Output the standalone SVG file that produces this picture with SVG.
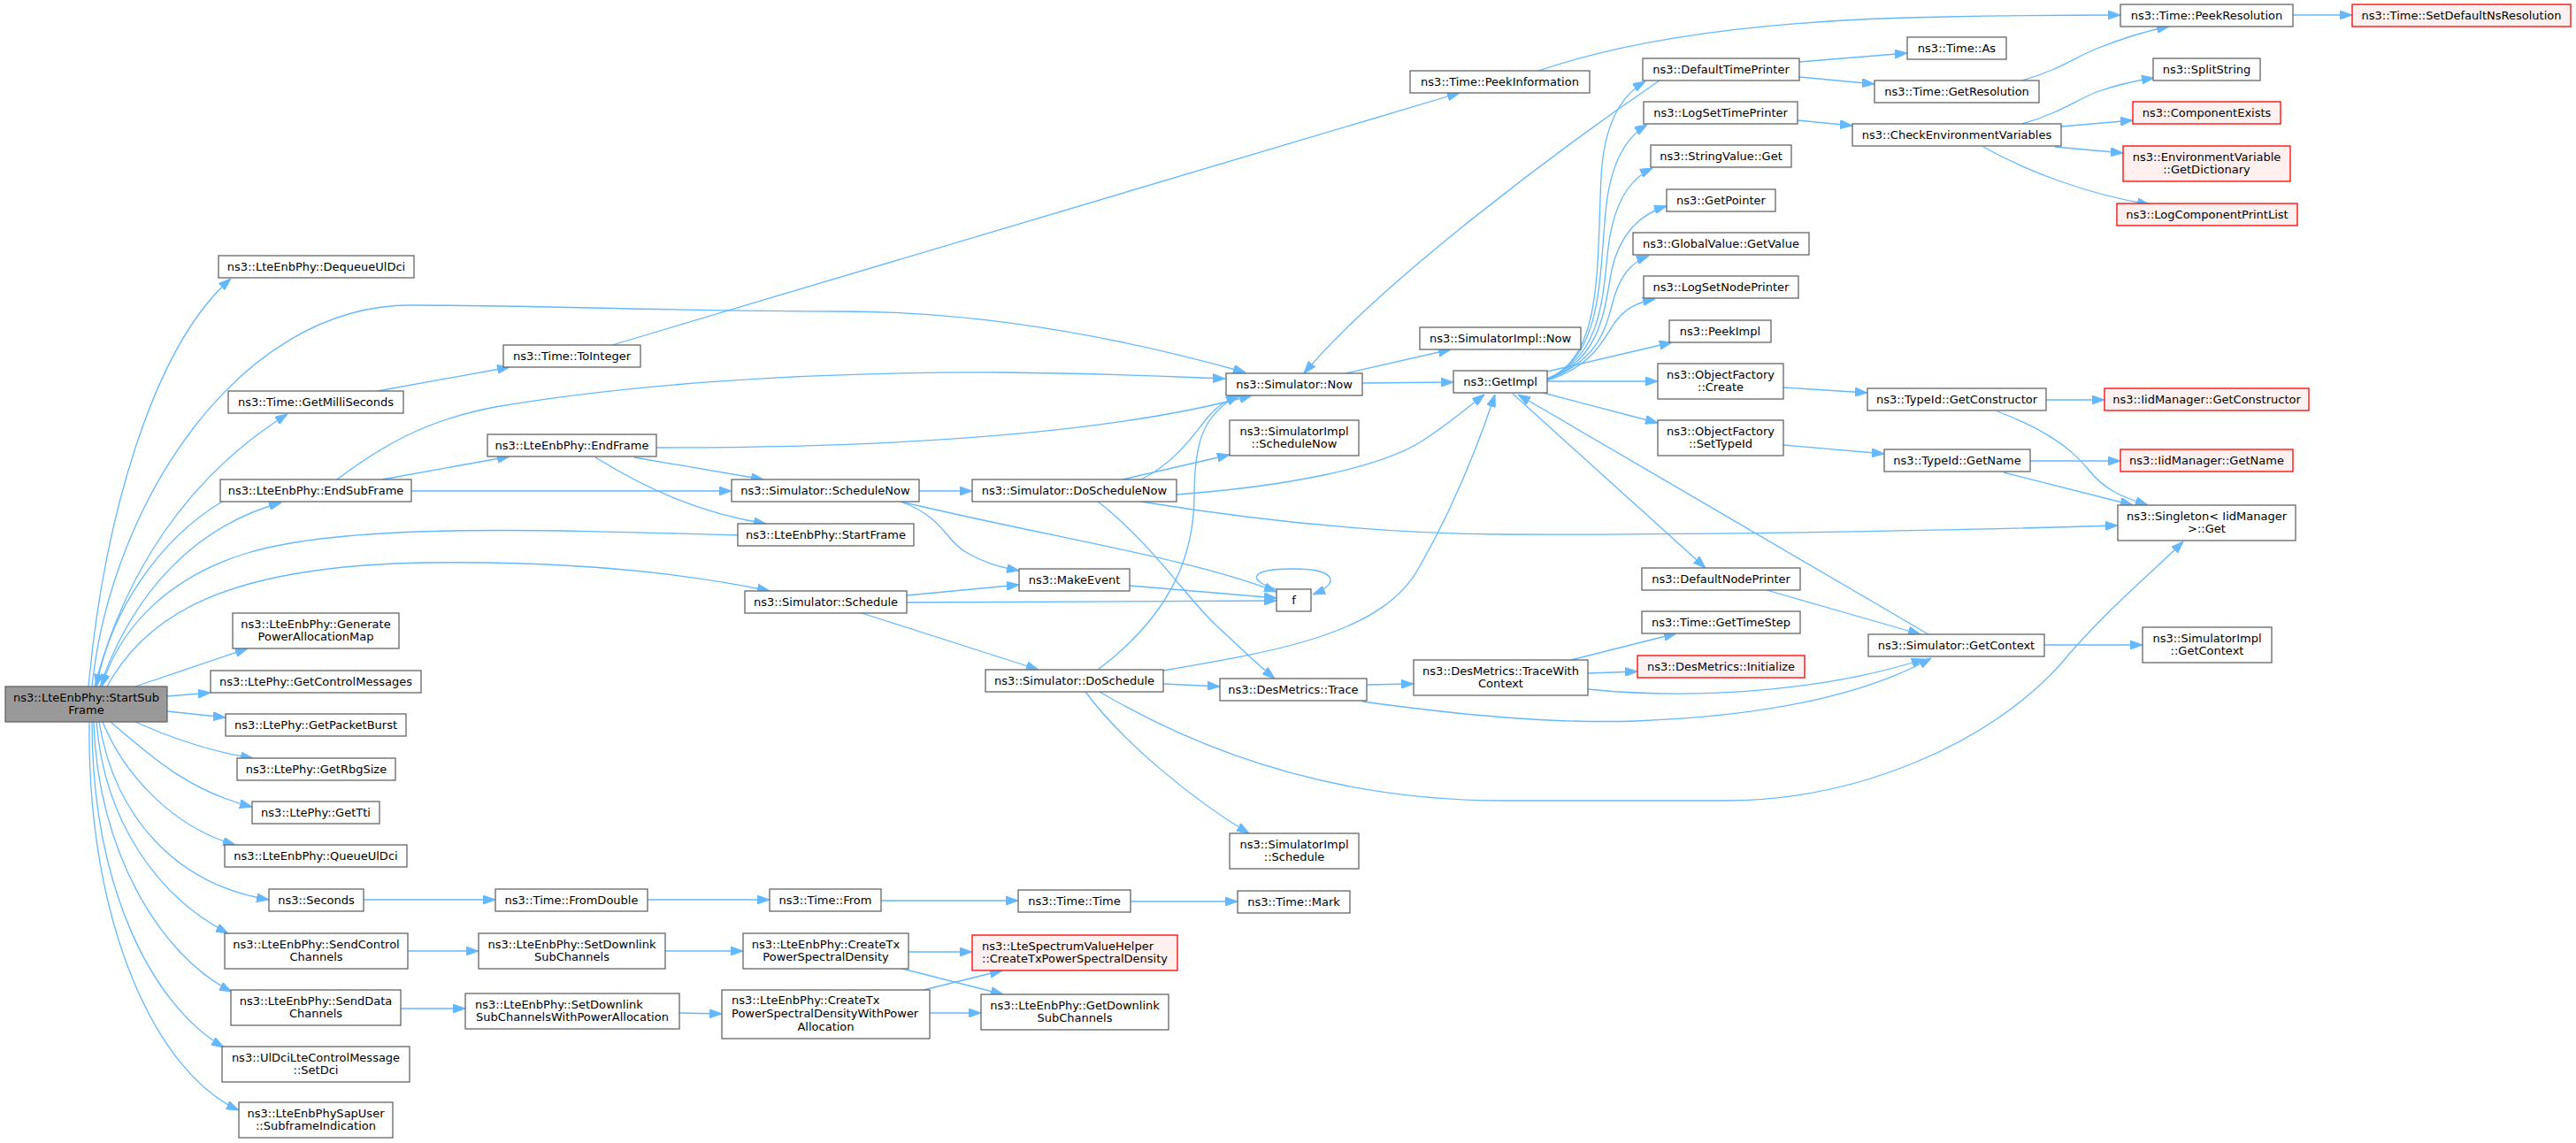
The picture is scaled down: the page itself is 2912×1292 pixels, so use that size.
<svg xmlns="http://www.w3.org/2000/svg" width="2912" height="1292" viewBox="0 0 2912 1292">
<style>
.node rect{fill:#ffffff;stroke:#666666;stroke-width:1.3}
.red rect{fill:#fff0f0;stroke:#ff0000}
.root rect{fill:#999999}
text{font-family:"DejaVu Sans",sans-serif;font-size:13px;fill:#000000;text-anchor:middle}
text.l{text-anchor:start}
#edges path{fill:none;stroke:#63b8ff;stroke-width:1.3;marker-end:url(#arr)}
</style>
<defs>
<marker id="arr" viewBox="0 0 14 10" refX="14" refY="5" markerWidth="14" markerHeight="10" markerUnits="userSpaceOnUse" orient="auto">
<path d="M0,0 L14,5 L0,10 Z" fill="#63b8ff" stroke="#63b8ff" stroke-width="1"/>
</marker>
</defs>
<rect x="0" y="0" width="2912" height="1292" fill="#ffffff"/>
<g id="edges">
<path d="M100,776 C118,580 175,390 261,315"/>
<path d="M104,776 C125,570 270,345 464,345 C620,345 760,352 951,352 C1120,352 1280,385 1408,421"/>
<path d="M107,776 C140,650 210,540 325,468"/>
<path d="M113,776 C150,670 220,595 318,568"/>
<path d="M251,567 C180,610 125,690 109,776"/>
<path d="M834,605 C600,598 390,592 280,625 C190,652 135,710 115,776"/>
<path d="M121,776 C165,695 255,640 480,636 C630,634 760,645 870,668"/>
<path d="M153,776 L280,733"/>
<path d="M189,787 L238,783"/>
<path d="M189,804 L255,811"/>
<path d="M153,816 C195,835 240,850 286,857"/>
<path d="M125,816 C170,855 215,895 285,912"/>
<path d="M116,816 C140,875 195,935 266,955"/>
<path d="M112,816 C130,925 200,1000 304,1017"/>
<path d="M109,816 C118,930 180,1015 258,1055"/>
<path d="M106,816 C110,960 180,1080 262,1121"/>
<path d="M104,816 C104,1000 170,1135 253,1184"/>
<path d="M101,816 C98,1050 180,1215 270,1255"/>
<path d="M427,442 L576,415"/>
<path d="M692,390 L1650,105"/>
<path d="M1739,80 C1850,42 2000,22 2200,19 C2300,17 2360,17 2397,17"/>
<path d="M1876,91 C1760,170 1560,320 1474,422"/>
<path d="M2034,70 L2156,60"/>
<path d="M2034,87 L2119,95"/>
<path d="M2286,91 C2330,78 2345,65 2370,55 C2395,45 2420,36 2452,30"/>
<path d="M2592,17 L2659,17"/>
<path d="M2032,136 L2094,142"/>
<path d="M2286,140 C2330,127 2345,114 2370,104 C2395,95 2415,91 2435,88"/>
<path d="M2330,143 L2411,136"/>
<path d="M2323,166 L2400,173"/>
<path d="M2242,166 C2290,193 2360,220 2430,231"/>
<path d="M1521,422 L1640,395"/>
<path d="M1540,433 L1643,432"/>
<path d="M1749,428 C1812,405 1805,300 1810,200 C1813,140 1832,108 1860,92"/>
<path d="M1749,428 C1812,405 1808,310 1815,240 C1820,185 1838,155 1862,141"/>
<path d="M1749,428 C1812,405 1812,330 1818,280 C1824,230 1842,202 1868,190"/>
<path d="M1749,429 C1812,406 1814,345 1822,305 C1830,268 1852,242 1884,233"/>
<path d="M1749,429 C1812,406 1816,365 1825,335 C1833,310 1845,296 1864,289"/>
<path d="M1749,430 C1800,414 1812,385 1825,365 C1838,348 1850,342 1871,338"/>
<path d="M1749,420 L1890,387"/>
<path d="M1749,431 L1874,431"/>
<path d="M1744,444 L1874,478"/>
<path d="M1710,445 L1928,642"/>
<path d="M2180,717 C2050,640 1850,525 1716,446"/>
<path d="M1997,667 L2171,717"/>
<path d="M1330,559 C1450,550 1560,530 1610,497 C1640,477 1660,460 1678,446"/>
<path d="M1315,758 C1450,735 1565,715 1605,640 C1645,570 1672,500 1690,446"/>
<path d="M1241,757 C1330,690 1350,620 1350,560 C1350,500 1360,468 1400,447"/>
<path d="M1290,542 C1330,522 1350,490 1365,472 C1375,460 1385,453 1402,447"/>
<path d="M742,506 C1000,506 1250,492 1415,447"/>
<path d="M381,542 C430,505 480,475 560,460 C700,436 900,420 1132,421 C1250,422 1330,426 1385,428"/>
<path d="M432,542 L576,516"/>
<path d="M465,555 L827,555"/>
<path d="M717,517 L863,542"/>
<path d="M673,517 C730,552 790,580 866,592"/>
<path d="M1039,555 L1099,555"/>
<path d="M1018,567 C1068,585 1068,612 1095,626 C1115,637 1130,641 1152,645"/>
<path d="M1018,567 C1200,610 1350,632 1443,669"/>
<path d="M1269,542 L1390,514"/>
<path d="M1241,567 C1300,612 1345,680 1375,707 C1400,730 1420,750 1441,767"/>
<path d="M1290,567 C1400,585 1550,603 1700,604 C1900,605 2200,600 2394,594"/>
<path d="M1025,673 L1152,661"/>
<path d="M1025,681 L1443,679"/>
<path d="M974,693 L1174,757"/>
<path d="M1277,662 L1443,676"/>
<path d="M1446,667 C1405,655 1415,643 1462,643 C1512,643 1515,660 1484,672"/>
<path d="M1315,773 L1379,776"/>
<path d="M1227,782 C1270,840 1350,905 1412,942"/>
<path d="M1243,782 C1350,845 1500,905 1700,905 L1950,905 C2100,905 2250,840 2330,750 C2380,690 2430,650 2468,612"/>
<path d="M1546,774 L1598,773"/>
<path d="M1540,793 C1650,808 1750,818 1850,815 C1980,810 2100,790 2183,744"/>
<path d="M1776,746 L1895,716"/>
<path d="M1795,761 L1851,759"/>
<path d="M1795,779 C1900,790 2050,785 2175,745"/>
<path d="M2311,729 L2422,729"/>
<path d="M2016,438 L2111,444"/>
<path d="M2016,503 L2130,513"/>
<path d="M2313,452 L2379,452"/>
<path d="M2258,465 C2310,485 2340,505 2360,530 C2380,555 2400,562 2428,571"/>
<path d="M2295,521 L2397,521"/>
<path d="M2265,534 L2411,571"/>
<path d="M411,1017 L560,1017"/>
<path d="M732,1017 L870,1017"/>
<path d="M996,1018 L1151,1018"/>
<path d="M1278,1019 L1399,1019"/>
<path d="M461,1075 L541,1075"/>
<path d="M752,1075 L840,1075"/>
<path d="M1027,1076 L1099,1076"/>
<path d="M1016,1094 L1134,1124"/>
<path d="M453,1140 L526,1140"/>
<path d="M768,1145 L816,1146"/>
<path d="M1044,1119 L1133,1097"/>
<path d="M1051,1145 L1109,1145"/>
</g>
<g id="n1" class="node root"><rect x="6" y="776" width="183" height="40"/><text x="97.5" y="793">ns3::LteEnbPhy::StartSub</text><text x="97.5" y="807">Frame</text></g>
<g id="n2" class="node"><rect x="247" y="289" width="221" height="25"/><text x="357.5" y="306">ns3::LteEnbPhy::DequeueUlDci</text></g>
<g id="n3" class="node"><rect x="1386" y="422" width="154" height="25"/><text x="1463" y="439">ns3::Simulator::Now</text></g>
<g id="n4" class="node"><rect x="258" y="442" width="198" height="25"/><text x="357" y="459">ns3::Time::GetMilliSeconds</text></g>
<g id="n5" class="node"><rect x="569" y="390" width="155" height="25"/><text x="646.5" y="407">ns3::Time::ToInteger</text></g>
<g id="n6" class="node"><rect x="1594" y="80" width="203" height="25"/><text x="1695.5" y="97">ns3::Time::PeekInformation</text></g>
<g id="n7" class="node"><rect x="2397" y="5" width="195" height="25"/><text x="2494.5" y="22">ns3::Time::PeekResolution</text></g>
<g id="n8" class="node red"><rect x="2659" y="5" width="247" height="25"/><text x="2782.5" y="22">ns3::Time::SetDefaultNsResolution</text></g>
<g id="n9" class="node"><rect x="249" y="542" width="216" height="25"/><text x="357" y="559">ns3::LteEnbPhy::EndSubFrame</text></g>
<g id="n10" class="node"><rect x="551" y="491" width="191" height="25"/><text x="646.5" y="508">ns3::LteEnbPhy::EndFrame</text></g>
<g id="n11" class="node"><rect x="827" y="542" width="212" height="25"/><text x="933" y="559">ns3::Simulator::ScheduleNow</text></g>
<g id="n12" class="node"><rect x="834" y="592" width="199" height="25"/><text x="933.5" y="609">ns3::LteEnbPhy::StartFrame</text></g>
<g id="n13" class="node"><rect x="842" y="668" width="183" height="25"/><text x="933.5" y="685">ns3::Simulator::Schedule</text></g>
<g id="n14" class="node"><rect x="263" y="693" width="188" height="40"/><text x="357" y="710">ns3::LteEnbPhy::Generate</text><text x="357" y="724">PowerAllocationMap</text></g>
<g id="n15" class="node"><rect x="238" y="758" width="238" height="25"/><text x="357" y="775">ns3::LtePhy::GetControlMessages</text></g>
<g id="n16" class="node"><rect x="255" y="807" width="204" height="25"/><text x="357" y="824">ns3::LtePhy::GetPacketBurst</text></g>
<g id="n17" class="node"><rect x="268" y="857" width="179" height="25"/><text x="357.5" y="874">ns3::LtePhy::GetRbgSize</text></g>
<g id="n18" class="node"><rect x="285" y="906" width="144" height="25"/><text x="357" y="923">ns3::LtePhy::GetTti</text></g>
<g id="n19" class="node"><rect x="254" y="955" width="206" height="25"/><text x="357" y="972">ns3::LteEnbPhy::QueueUlDci</text></g>
<g id="n20" class="node"><rect x="304" y="1005" width="107" height="25"/><text x="357.5" y="1022">ns3::Seconds</text></g>
<g id="n21" class="node"><rect x="254" y="1055" width="207" height="40"/><text x="357.5" y="1072">ns3::LteEnbPhy::SendControl</text><text x="357.5" y="1086">Channels</text></g>
<g id="n22" class="node"><rect x="261" y="1119" width="192" height="40"/><text x="357" y="1136">ns3::LteEnbPhy::SendData</text><text x="357" y="1150">Channels</text></g>
<g id="n23" class="node"><rect x="251" y="1183" width="212" height="40"/><text x="357" y="1200">ns3::UlDciLteControlMessage</text><text x="357" y="1214">::SetDci</text></g>
<g id="n24" class="node"><rect x="270" y="1246" width="174" height="40"/><text x="357" y="1263">ns3::LteEnbPhySapUser</text><text x="357" y="1277">::SubframeIndication</text></g>
<g id="n25" class="node"><rect x="560" y="1005" width="172" height="25"/><text x="646" y="1022">ns3::Time::FromDouble</text></g>
<g id="n26" class="node"><rect x="870" y="1005" width="126" height="25"/><text x="933" y="1022">ns3::Time::From</text></g>
<g id="n27" class="node"><rect x="1151" y="1006" width="127" height="25"/><text x="1214.5" y="1023">ns3::Time::Time</text></g>
<g id="n28" class="node"><rect x="1399" y="1007" width="127" height="25"/><text x="1462.5" y="1024">ns3::Time::Mark</text></g>
<g id="n29" class="node"><rect x="541" y="1055" width="211" height="40"/><text x="646.5" y="1072">ns3::LteEnbPhy::SetDownlink</text><text x="646.5" y="1086">SubChannels</text></g>
<g id="n30" class="node"><rect x="526" y="1123" width="242" height="40"/><text class="l" x="537" y="1140">ns3::LteEnbPhy::SetDownlink</text><text x="647" y="1154">SubChannelsWithPowerAllocation</text></g>
<g id="n31" class="node"><rect x="840" y="1055" width="187" height="40"/><text x="933.5" y="1072">ns3::LteEnbPhy::CreateTx</text><text x="933.5" y="1086">PowerSpectralDensity</text></g>
<g id="n32" class="node"><rect x="816" y="1119" width="235" height="55"/><text class="l" x="827" y="1135">ns3::LteEnbPhy::CreateTx</text><text class="l" x="827" y="1150">PowerSpectralDensityWithPower</text><text x="933.5" y="1165">Allocation</text></g>
<g id="n33" class="node red"><rect x="1099" y="1057" width="232" height="40"/><text class="l" x="1110" y="1074">ns3::LteSpectrumValueHelper</text><text x="1215" y="1088">::CreateTxPowerSpectralDensity</text></g>
<g id="n34" class="node"><rect x="1109" y="1124" width="212" height="40"/><text x="1215" y="1141">ns3::LteEnbPhy::GetDownlink</text><text x="1215" y="1155">SubChannels</text></g>
<g id="n35" class="node"><rect x="1099" y="542" width="231" height="25"/><text x="1214.5" y="559">ns3::Simulator::DoScheduleNow</text></g>
<g id="n36" class="node"><rect x="1390" y="475" width="146" height="40"/><text x="1463" y="492">ns3::SimulatorImpl</text><text x="1463" y="506">::ScheduleNow</text></g>
<g id="n37" class="node"><rect x="1152" y="643" width="125" height="25"/><text x="1214.5" y="660">ns3::MakeEvent</text></g>
<g id="n38" class="node"><rect x="1443" y="666" width="39" height="25"/><text x="1462.5" y="683">f</text></g>
<g id="n39" class="node"><rect x="1114" y="757" width="201" height="25"/><text x="1214.5" y="774">ns3::Simulator::DoSchedule</text></g>
<g id="n40" class="node"><rect x="1379" y="767" width="166" height="25"/><text x="1462" y="784">ns3::DesMetrics::Trace</text></g>
<g id="n41" class="node"><rect x="1390" y="942" width="146" height="40"/><text x="1463" y="959">ns3::SimulatorImpl</text><text x="1463" y="973">::Schedule</text></g>
<g id="n42" class="node"><rect x="1605" y="370" width="182" height="25"/><text x="1696" y="387">ns3::SimulatorImpl::Now</text></g>
<g id="n43" class="node"><rect x="1643" y="419" width="106" height="25"/><text x="1696" y="436">ns3::GetImpl</text></g>
<g id="n44" class="node"><rect x="1857" y="66" width="177" height="25"/><text x="1945.5" y="83">ns3::DefaultTimePrinter</text></g>
<g id="n45" class="node"><rect x="1858" y="115" width="174" height="25"/><text x="1945" y="132">ns3::LogSetTimePrinter</text></g>
<g id="n46" class="node"><rect x="1866" y="164" width="159" height="25"/><text x="1945.5" y="181">ns3::StringValue::Get</text></g>
<g id="n47" class="node"><rect x="1884" y="214" width="123" height="25"/><text x="1945.5" y="231">ns3::GetPointer</text></g>
<g id="n48" class="node"><rect x="1846" y="263" width="199" height="25"/><text x="1945.5" y="280">ns3::GlobalValue::GetValue</text></g>
<g id="n49" class="node"><rect x="1858" y="312" width="175" height="25"/><text x="1945.5" y="329">ns3::LogSetNodePrinter</text></g>
<g id="n50" class="node"><rect x="1887" y="362" width="115" height="25"/><text x="1944.5" y="379">ns3::PeekImpl</text></g>
<g id="n51" class="node"><rect x="1874" y="411" width="142" height="40"/><text x="1945" y="428">ns3::ObjectFactory</text><text x="1945" y="442">::Create</text></g>
<g id="n52" class="node"><rect x="1874" y="475" width="142" height="40"/><text x="1945" y="492">ns3::ObjectFactory</text><text x="1945" y="506">::SetTypeId</text></g>
<g id="n53" class="node"><rect x="1856" y="642" width="179" height="25"/><text x="1945.5" y="659">ns3::DefaultNodePrinter</text></g>
<g id="n54" class="node"><rect x="1856" y="691" width="179" height="25"/><text x="1945.5" y="708">ns3::Time::GetTimeStep</text></g>
<g id="n55" class="node red"><rect x="1851" y="741" width="189" height="25"/><text x="1945.5" y="758">ns3::DesMetrics::Initialize</text></g>
<g id="n56" class="node"><rect x="1598" y="746" width="197" height="40"/><text x="1696.5" y="763">ns3::DesMetrics::TraceWith</text><text x="1696.5" y="777">Context</text></g>
<g id="n57" class="node"><rect x="2156" y="42" width="112" height="25"/><text x="2212" y="59">ns3::Time::As</text></g>
<g id="n58" class="node"><rect x="2119" y="91" width="186" height="25"/><text x="2212" y="108">ns3::Time::GetResolution</text></g>
<g id="n59" class="node"><rect x="2094" y="140" width="236" height="25"/><text x="2212" y="157">ns3::CheckEnvironmentVariables</text></g>
<g id="n60" class="node"><rect x="2434" y="66" width="121" height="25"/><text x="2494.5" y="83">ns3::SplitString</text></g>
<g id="n61" class="node red"><rect x="2411" y="115" width="167" height="25"/><text x="2494.5" y="132">ns3::ComponentExists</text></g>
<g id="n62" class="node red"><rect x="2400" y="165" width="189" height="40"/><text x="2494.5" y="182">ns3::EnvironmentVariable</text><text x="2494.5" y="196">::GetDictionary</text></g>
<g id="n63" class="node red"><rect x="2393" y="230" width="204" height="25"/><text x="2495" y="247">ns3::LogComponentPrintList</text></g>
<g id="n64" class="node"><rect x="2111" y="439" width="202" height="25"/><text x="2212" y="456">ns3::TypeId::GetConstructor</text></g>
<g id="n65" class="node"><rect x="2130" y="508" width="165" height="25"/><text x="2212.5" y="525">ns3::TypeId::GetName</text></g>
<g id="n66" class="node"><rect x="2112" y="717" width="199" height="25"/><text x="2211.5" y="734">ns3::Simulator::GetContext</text></g>
<g id="n67" class="node red"><rect x="2379" y="439" width="231" height="25"/><text x="2494.5" y="456">ns3::IidManager::GetConstructor</text></g>
<g id="n68" class="node red"><rect x="2397" y="508" width="195" height="25"/><text x="2494.5" y="525">ns3::IidManager::GetName</text></g>
<g id="n69" class="node"><rect x="2394" y="571" width="201" height="40"/><text x="2494.5" y="588">ns3::Singleton&lt; IidManager</text><text x="2494.5" y="602">&gt;::Get</text></g>
<g id="n70" class="node"><rect x="2422" y="709" width="146" height="40"/><text x="2495" y="726">ns3::SimulatorImpl</text><text x="2495" y="740">::GetContext</text></g>
</svg>
